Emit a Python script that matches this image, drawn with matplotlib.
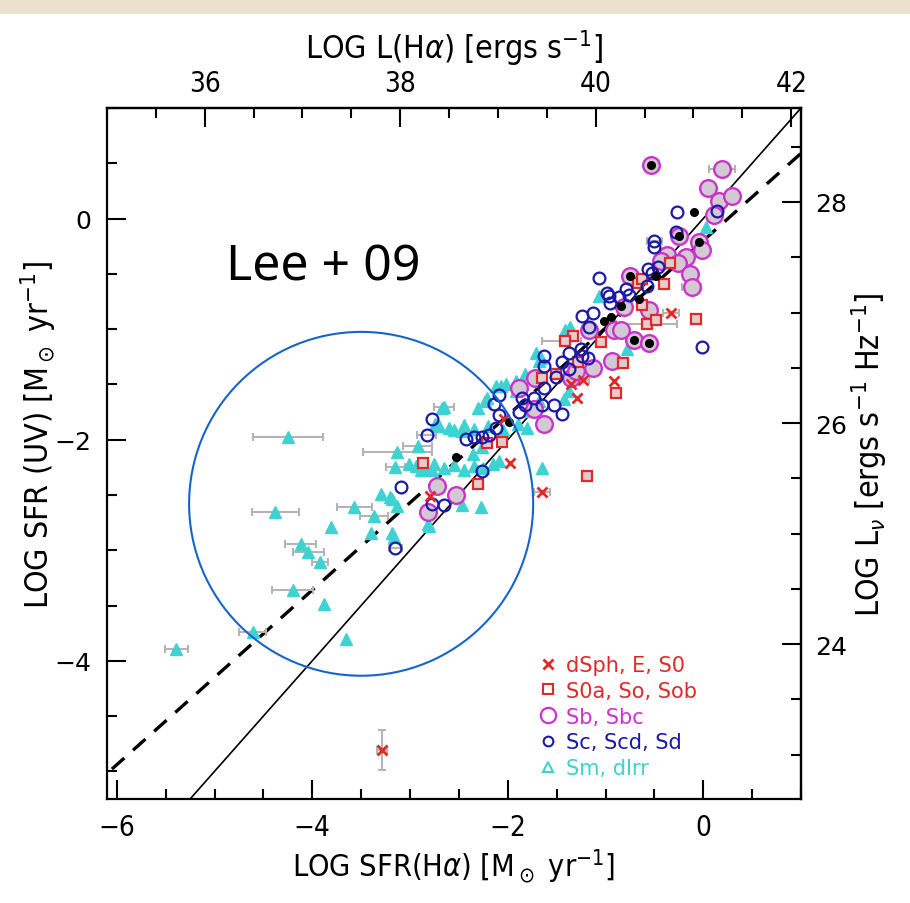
import matplotlib
matplotlib.use('Agg')
import matplotlib.pyplot as plt
from matplotlib.patches import Ellipse, Rectangle
from matplotlib.lines import Line2D
from matplotlib.ticker import MultipleLocator, FixedLocator

# ---------------- data ----------------
# dSph, E, S0  (red crosses)
dsph_x = [-0.33, -0.91, -1.23, -1.35, -1.29, -2.04, -1.98, -1.65, -2.80, -3.29]
dsph_y = [-0.85, -1.47, -1.46, -1.50, -1.62, -1.81, -2.21, -2.47, -2.51, -4.81]

# S0a, Sa, Sab (red squares)
s0a_x = [-0.34, -0.67, -0.63, -0.40, -0.63, -0.58, -0.48, -0.07, -1.33, -1.41, -1.05,
         -0.82, -1.28, -1.51, -1.65, -0.89, -2.21, -2.06, -2.87, -2.30, -1.19]
s0a_y = [-0.40, -0.58, -0.55, -0.59, -0.78, -0.95, -0.92, -0.91, -1.06, -1.11, -1.12,
         -1.31, -1.30, -1.41, -1.44, -1.58, -2.03, -2.02, -2.21, -2.40, -2.33]

# Sb, Sbc (magenta circles)
sb_x = [-0.53, 0.19, 0.05, 0.16, 0.29, 0.11, -0.25, -0.04, -0.01, -0.37, -0.18, -0.26,
        -0.43, -0.14, -0.12, -0.75, -0.55, -0.81, -0.91, -0.71, -0.55, -0.84, -0.93,
        -1.13, -1.17, -1.89, -1.72, -1.73, -1.63, -1.35, -1.30, -2.72, -2.82, -2.53]
sb_y = [0.48, 0.45, 0.28, 0.16, 0.20, 0.03, -0.16, -0.21, -0.28, -0.33, -0.35, -0.40,
        -0.38, -0.50, -0.62, -0.52, -0.83, -0.80, -1.01, -1.10, -1.13, -1.01, -1.29,
        -1.35, -1.01, -1.53, -1.44, -1.72, -1.86, -1.44, -1.38, -2.42, -2.65, -2.50]

# Sc, Scd, Sd (blue circles)
sc_x = [-0.27, 0.14, -0.28, -0.50, -0.50, -0.46, -0.57, -0.52, -0.58, -1.07, -0.79,
        -0.98, -0.96, -0.76, -0.86, -1.13, -1.24, -1.17, -0.95, -0.01, -1.24, -1.18,
        -1.25, -1.37, -1.44, -1.37, -1.63, -1.63, -1.51, -1.63, -1.73, -1.85, -1.82,
        -1.89, -1.65, -1.53, -1.44, -2.09, -2.14, -2.09, -2.12, -2.35, -2.43, -2.26,
        -2.19, -2.78, -2.83, -2.26, -3.09, -2.77, -2.65, -3.15]
sc_y = [0.06, 0.07, -0.12, -0.20, -0.26, -0.44, -0.46, -0.49, -0.61, -0.54, -0.64,
        -0.67, -0.70, -0.69, -0.71, -0.85, -0.88, -0.98, -0.76, -1.16, -1.24, -1.26,
        -1.18, -1.22, -1.30, -1.36, -1.24, -1.33, -1.43, -1.53, -1.62, -1.62, -1.69,
        -1.75, -1.69, -1.69, -1.77, -1.60, -1.68, -1.78, -1.89, -1.98, -1.99, -1.98,
        -1.96, -1.81, -1.96, -2.28, -2.43, -2.58, -2.59, -2.98]

# Sm, dIrr (cyan triangles)
sm_x = [0.03, -1.07, -1.37, -4.25, -4.38, -5.39, -4.61, -3.65, -4.20, -3.88,
        -3.92, -4.04, -4.12, -3.81, -3.57, -3.37, -3.40, -3.18, -3.16, -3.30,
        -3.18, -3.13, -3.13, -2.92, -3.15, -2.65, -2.81, -2.47, -2.27, -2.94,
        -2.85, -2.75, -2.65, -2.55, -2.45, -2.35, -2.25, -2.15, -2.70, -2.55,
        -2.45, -2.35, -2.20, -2.05, -1.90, -1.80, -1.65, -2.09, -3.20, -2.82,
        -3.01, -2.89, -2.77, -2.67, -2.60, -2.47, -2.30, -2.23, -2.12, -2.02,
        -1.92, -1.78, -1.68, -1.42, -1.37, -2.26, -2.36, -1.71, -1.68, -1.82,
        -1.36, -1.41, -1.66, -2.07, -1.92, -2.21, -2.74, -0.78]
sm_y = [-0.08, -0.70, -1.00, -1.98, -2.65, -3.89, -3.74, -3.80, -3.36, -3.49,
        -3.11, -3.02, -2.94, -2.79, -2.61, -2.69, -2.84, -2.84, -2.88, -2.49,
        -2.54, -2.60, -2.11, -2.06, -2.25, -1.70, -2.78, -2.59, -2.61, -2.24,
        -2.27, -2.22, -2.26, -2.23, -2.27, -2.24, -2.26, -2.22, -1.88, -1.91,
        -1.87, -1.90, -1.88, -1.91, -1.86, -1.89, -2.26, -2.19, -2.52, -2.76,
        -2.22, -2.27, -2.27, -1.71, -1.89, -1.92, -1.71, -1.65, -1.51, -1.50,
        -1.56, -1.74, -1.65, -1.63, -1.56, -2.07, -2.13, -1.22, -1.29, -1.41,
        -0.98, -1.01, -1.26, -1.51, -1.47, -1.62, -1.86, -1.18]

# black filled dots
blk_x = [-0.53, -0.09, -0.25, -0.04, -0.75, -0.48, -0.84, -0.66, -0.94, -1.02, -0.71, -0.55, -1.99, -2.53]
blk_y = [0.48, 0.06, -0.16, -0.21, -0.52, -0.52, -0.79, -0.73, -0.89, -0.93, -1.10, -1.13, -1.84, -2.16]

# error bars (gray)
err_x = [0.19, -0.12, -0.01, -0.55, -0.50, -0.33, -0.58, -1.45, -1.65, -3.29, -4.25, -4.38,
         -5.39, -4.61, -4.20, -3.92, -4.04, -4.12, -3.57, -3.37, -3.13, -2.92, -3.15, -2.65,
         -3.15, -2.83, -1.23]
err_y = [0.45, -0.62, -0.28, -1.13, -0.20, -0.85, -0.95, -1.11, -2.47, -4.81, -1.98, -2.65,
         -3.89, -3.74, -3.36, -3.11, -3.02, -2.94, -2.61, -2.69, -2.11, -2.06, -2.25, -1.70,
         -2.98, -1.96, -1.46]
err_dx = [0.13, 0.10, 0.07, 0.07, 0.08, 0.08, 0.31, 0.20, 0.08, 0.05, 0.36, 0.24,
          0.12, 0.14, 0.21, 0.08, 0.16, 0.16, 0.18, 0.14, 0.35, 0.15, 0.10, 0.10,
          0.07, 0.10, 0.06]
err_dy = [0, 0, 0, 0, 0, 0, 0, 0, 0, 0.18, 0, 0,
          0, 0, 0, 0, 0, 0, 0, 0, 0, 0, 0, 0,
          0, 0, 0]

legend_labels = ['dSph, E, S0', 'S0a, So, Sob', 'Sb, Sbc', 'Sc, Scd, Sd', 'Sm, dIrr']

# relations
ha_offset = 41.10   # log L(Halpha) = log SFR + 41.10
uv_offset = 27.85   # log L_nu = log SFR + 27.85
fit_slope, fit_icpt = 0.79, -0.20

# ---------------- styling ----------------
plt.rcParams['font.family'] = ['DejaVu Sans']
plt.rcParams['font.stretch'] = 'condensed'
plt.rcParams['mathtext.fontset'] = 'dejavusans'

RED = '#e02a2a'
MAG = '#cc33cc'
BLUE = '#1a1aa6'
CYAN = '#3fd2d2'

fig = plt.figure(figsize=(9.1, 9.04), dpi=100)
fig.patches.append(Rectangle((0, 1 - 15 / 904), 1, 15 / 904, transform=fig.transFigure,
                             facecolor='#ebe1cf', edgecolor='none', zorder=0))
ax = fig.add_axes([107 / 910, 1 - 800 / 904, 694 / 910, 691 / 904])
ax.set_xlim(-6.1, 1.0)
ax.set_ylim(-5.25, 1.0)

# lines
ax.plot([-5.25, 1.0], [-5.25, 1.0], color='black', lw=1.2, zorder=1)
xs = [-6.05, 1.0]
ax.plot(xs, [fit_slope * v + fit_icpt for v in xs], color='black', lw=2.4,
        dashes=(5, 3.5), zorder=1)

# error bars
ax.errorbar(err_x, err_y, xerr=err_dx, yerr=err_dy,
            fmt='none', ecolor='#b4b4b4', elinewidth=1.5, capsize=3, capthick=1.5, zorder=2)

# points
ax.plot(sm_x, sm_y, linestyle='none', marker='^', ms=9, mfc=CYAN, mec=CYAN, mew=1.0, zorder=3)
ax.plot(sb_x, sb_y, linestyle='none', marker='o', ms=12, mfc='#d2c9d2', mec=MAG, mew=1.7, zorder=4)
ax.plot(s0a_x, s0a_y, linestyle='none', marker='s', ms=7, mfc='#e6cccc', mec=RED, mew=1.6, zorder=5)
ax.plot(sc_x, sc_y, linestyle='none', marker='o', ms=8.5, mfc='none', mec=BLUE, mew=1.6, zorder=6)
ax.plot(dsph_x, dsph_y, linestyle='none', marker='x', ms=7, mec=RED, mew=2.0, zorder=7)
ax.plot(blk_x, blk_y, linestyle='none', marker='o', ms=5.5, mfc='black', mec='black', zorder=8)

# circle annotation
ax.add_patch(Ellipse((-3.50, -2.58), 3.52, 3.11, fill=False, edgecolor='#1565c8', lw=1.5, zorder=9))
ax.text(-4.88, -0.55, 'Lee + 09', fontsize=36, family=['Noto Sans'], fontstretch='normal',
        color='black', zorder=10)

# legend
handles = [
    Line2D([], [], linestyle='none', marker='x', ms=7, mec=RED, mew=2.0),
    Line2D([], [], linestyle='none', marker='s', ms=7, mfc='white', mec=RED, mew=1.5),
    Line2D([], [], linestyle='none', marker='o', ms=11, mfc='white', mec=MAG, mew=1.6),
    Line2D([], [], linestyle='none', marker='o', ms=7, mfc='white', mec=BLUE, mew=1.5),
    Line2D([], [], linestyle='none', marker='^', ms=7, mfc='white', mec=CYAN, mew=1.5),
]
leg = ax.legend(handles, legend_labels, loc='lower left', bbox_to_anchor=(0.62, 0.03),
                frameon=False, handlelength=1.0, handletextpad=0.4, labelspacing=0.28,
                borderpad=0, borderaxespad=0,
                prop={'family': 'DejaVu Sans', 'size': 15, 'stretch': 'normal'})
for t, c in zip(leg.get_texts(), [RED, RED, MAG, BLUE, CYAN]):
    t.set_color(c)

# axes & ticks
for s in ax.spines.values():
    s.set_linewidth(1.6)
ax.xaxis.set_major_locator(FixedLocator([-6, -4, -2, 0]))
ax.xaxis.set_minor_locator(MultipleLocator(0.5))
ax.yaxis.set_major_locator(FixedLocator([-4, -2, 0]))
ax.yaxis.set_minor_locator(MultipleLocator(0.5))
ax.tick_params(which='major', direction='in', length=14, width=1.5)
ax.tick_params(which='minor', direction='in', length=7, width=1.5)
ax.tick_params(axis='x', labelsize=20, pad=10)
ax.tick_params(axis='y', labelsize=18, pad=11)
ax.set_xticklabels(['\u22126', '\u22124', '\u22122', '0'])
ax.set_yticklabels(['\u22124', '\u22122', '0'], fontstretch='normal')

top = ax.secondary_xaxis('top', functions=(lambda v: v + ha_offset, lambda v: v - ha_offset))
top.xaxis.set_major_locator(FixedLocator([36, 38, 40, 42]))
top.xaxis.set_minor_locator(MultipleLocator(0.5))
top.tick_params(which='major', direction='in', length=14, width=1.5, labelsize=20, pad=8)
top.tick_params(which='minor', direction='in', length=7, width=1.5)
top.spines['top'].set_linewidth(1.6)

right = ax.secondary_yaxis('right', functions=(lambda v: v + uv_offset, lambda v: v - uv_offset))
right.yaxis.set_major_locator(FixedLocator([24, 26, 28]))
right.yaxis.set_minor_locator(MultipleLocator(0.5))
right.tick_params(which='major', direction='in', length=14, width=1.5, labelsize=18, pad=10)
right.tick_params(which='minor', direction='in', length=7, width=1.5)
right.spines['right'].set_linewidth(1.6)
for lab in right.get_yticklabels():
    lab.set_fontstretch('normal')

ax.set_xlabel(r'LOG SFR(H$\alpha$) [M$_\odot$ yr$^{-1}$]', fontsize=22, labelpad=4)
ax.set_ylabel(r'LOG SFR (UV) [M$_\odot$ yr$^{-1}$]', fontsize=23)
ax.yaxis.set_label_coords(-0.07, 0.528)
top.set_xlabel(r'LOG L(H$\alpha$) [ergs s$^{-1}$]', fontsize=23, labelpad=8)
right.set_ylabel(r'LOG L$_\nu$ [ergs s$^{-1}$ Hz$^{-1}$]', fontsize=23, labelpad=2)

fig.savefig('out.png', dpi=100)
